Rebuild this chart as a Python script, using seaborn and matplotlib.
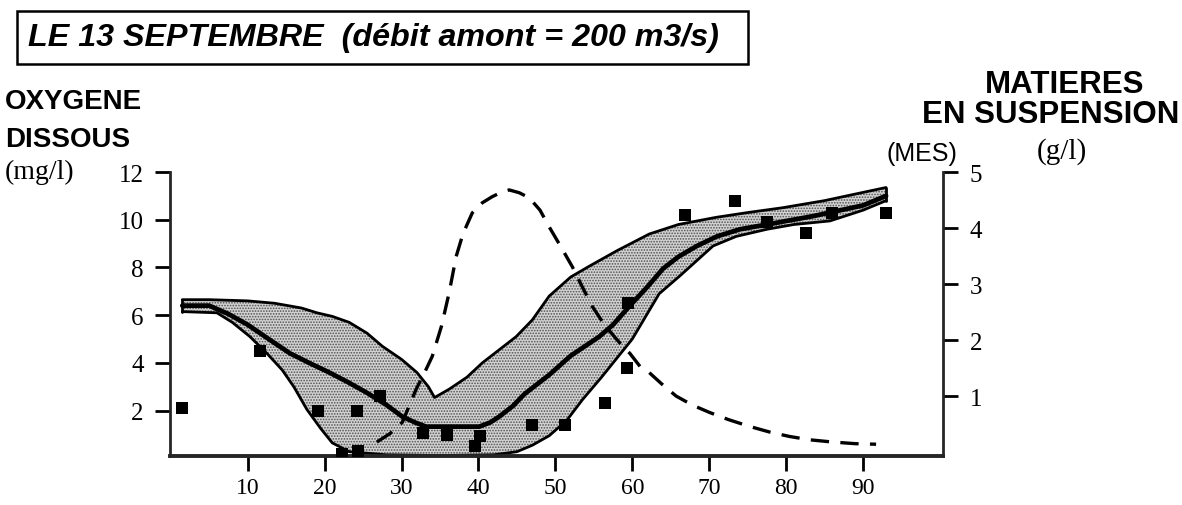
import numpy as np
import pandas as pd
import matplotlib
matplotlib.use("Agg")
import matplotlib.pyplot as plt
import seaborn as sns
from matplotlib.patches import Rectangle

# ---------------- data ----------------
# band of simulated dissolved oxygen (mg/l)
upper_x = [1.5, 5, 10, 13.5, 17, 19, 21, 23.2, 25.5, 27.5, 30, 32, 33.5, 34.3, 36.2, 38.5,
           40.5, 42.5, 44.9, 47, 49.2, 52, 54.4, 58, 62.2, 66, 70.9, 75, 79.5, 85, 90.8, 93]
upper_y = [6.65, 6.65, 6.6, 6.5, 6.3, 6.1, 5.95, 5.7, 5.25, 4.7, 4.15, 3.6, 3.0, 2.55, 2.9, 3.4,
           4.0, 4.5, 5.1, 5.8, 6.8, 7.6, 8.05, 8.7, 9.4, 9.8, 10.1, 10.3, 10.5, 10.8, 11.2, 11.35]
lower_x = [1.5, 6, 8, 10.3, 12.5, 14.5, 16, 17.7, 19.5, 21, 23.2, 28, 35, 42, 45, 47, 49.2,
           51.5, 53.5, 56, 58, 60, 63.5, 66.2, 70.5, 73.5, 77.5, 81, 85.7, 90, 93]
lower_y = [6.15, 6.1, 5.7, 5.1, 4.4, 3.7, 3.0, 2.05, 1.25, 0.65, 0.28, 0.15, 0.12, 0.15, 0.28,
           0.55, 0.95, 1.6, 2.45, 3.4, 4.2, 5.0, 6.9, 7.65, 8.9, 9.3, 9.6, 9.8, 9.95, 10.4, 10.8]
# central simulated oxygen
o2_x = [1.5, 5, 7.5, 10, 12.5, 15.5, 18, 20.6, 23, 25.5, 28, 30.1, 31.8, 33.2, 40.1, 41.5,
        42.7, 44.5, 46, 49.2, 52, 55.7, 57.5, 59.7, 62, 64, 66, 68.4, 71, 74, 77.5, 83.5, 90, 93]
o2_y = [6.4, 6.4, 6.05, 5.6, 5.05, 4.4, 4.0, 3.6, 3.2, 2.75, 2.25, 1.75, 1.5, 1.33, 1.33, 1.5,
        1.75, 2.2, 2.7, 3.5, 4.3, 5.1, 5.6, 6.4, 7.2, 7.95, 8.45, 8.9, 9.3, 9.6, 9.8, 10.15, 10.6, 11.0]
# measured oxygen (squares)
meas_x = [1.4, 11.6, 19.1, 22.2, 24.2, 24.3, 27.2, 32.8, 35.9, 39.5, 40.2, 47, 51.2, 56.4,
          59.3, 59.4, 66.8, 73.3, 77.5, 82.6, 86, 93]
meas_y = [2.1, 4.5, 2.0, 0.2, 2.0, 0.33, 2.6, 1.05, 0.96, 0.5, 0.92, 1.4, 1.4, 2.3,
          3.8, 6.5, 10.2, 10.8, 9.9, 9.45, 10.3, 10.3]
# suspended matter MES (g/l), right axis
mes_x = [26.8, 28.5, 30.1, 31.9, 33.0, 34.0, 35.2, 36.2, 37.1, 38.0, 39.2, 40.5, 41.8, 43.0,
         44.0, 45.3, 46.6, 48.0, 49.2, 50.7, 52.2, 53.5, 54.8, 56.5, 58.3, 59.7, 61.0, 62.2,
         63.8, 65.7, 67.8, 70.0, 72.5, 75.2, 77.8, 80.4, 83.0, 86.0, 89.0, 91.7]
mes_y = [0.18, 0.33, 0.53, 1.12, 1.42, 1.71, 2.25, 2.85, 3.49, 3.9, 4.27, 4.45, 4.56, 4.64,
         4.68, 4.63, 4.54, 4.32, 4.02, 3.67, 3.31, 2.95, 2.6, 2.25, 1.96, 1.76, 1.53, 1.42,
         1.22, 1.0, 0.84, 0.71, 0.58, 0.46, 0.36, 0.28, 0.22, 0.18, 0.15, 0.14]

x_ticks = [10, 20, 30, 40, 50, 60, 70, 80, 90]
left_ticks = [2, 4, 6, 8, 10, 12]
right_ticks = [1, 2, 3, 4, 5]

# ---------------- figure ----------------
sns.set_style("ticks")
plt.rcParams['font.family'] = ['Liberation Serif', 'DejaVu Serif']
plt.rcParams['hatch.linewidth'] = 0.8
plt.rcParams['text.color'] = 'black'
plt.rcParams['xtick.color'] = 'black'
plt.rcParams['ytick.color'] = 'black'

W, H = 1182, 506
fig = plt.figure(figsize=(W / 100, H / 100), dpi=100)
fig.patch.set_facecolor("white")

ax = fig.add_axes([170 / W, 1 - 457 / H, (943 - 170) / W, (457 - 173) / H])
ax.set_facecolor("white")

# stippled band
band_x = np.concatenate([upper_x, lower_x[::-1]])
band_y = np.concatenate([upper_y, lower_y[::-1]])
ax.fill(band_x, band_y, facecolor="#d2d2d2", edgecolor="#505050", hatch="......",
        linewidth=0, zorder=1)
ax.plot(upper_x, upper_y, color="black", lw=2.0, zorder=2)
ax.plot(lower_x, lower_y, color="black", lw=2.0, zorder=2)
ax.plot([upper_x[0], lower_x[0]], [upper_y[0], lower_y[0]], color="black", lw=2.0, zorder=2)
ax.plot([upper_x[-1], lower_x[-1]], [upper_y[-1], lower_y[-1]], color="black", lw=2.0, zorder=2)

df_o2 = pd.DataFrame({"x": o2_x, "y": o2_y})
sns.lineplot(data=df_o2, x="x", y="y", ax=ax, color="black", lw=3.4, sort=False,
             estimator=None, zorder=3)

df_meas = pd.DataFrame({"x": meas_x, "y": meas_y})
sns.scatterplot(data=df_meas, x="x", y="y", ax=ax, marker="s", s=70, color="black",
                edgecolor="black", linewidth=0, zorder=4)

ax.set_xlim(-0.1, 100.4)
ax.set_ylim(0.1, 12)
ax.set_xticks(x_ticks)
ax.set_xticklabels([str(v) for v in x_ticks])
ax.set_yticks(left_ticks)
ax.set_yticklabels([str(v) for v in left_ticks])
ax.set_xlabel("")
ax.set_ylabel("")
for s in ["top", "right"]:
    ax.spines[s].set_visible(False)
ax.spines["left"].set_linewidth(2)
ax.spines["bottom"].set_linewidth(2.8)
ax.tick_params(axis="both", direction="out", width=2, length=11, labelsize=18,
               colors="black")
ax.tick_params(axis="x", pad=4, labelsize=17)
ax.tick_params(axis="y", pad=8)

# right axis for MES
ax2 = ax.twinx()
df_mes = pd.DataFrame({"x": mes_x, "y": mes_y})
sns.lineplot(data=df_mes, x="x", y="y", ax=ax2, color="black", lw=2.4, sort=False,
             estimator=None, zorder=3)
ax2.lines[-1].set_dashes([5.5, 3.4])
ax2.set_ylim(-0.07, 5)
ax2.set_yticks(right_ticks)
ax2.set_yticklabels([str(v) for v in right_ticks])
ax2.set_ylabel("")
for s in ["top", "left", "bottom"]:
    ax2.spines[s].set_visible(False)
ax2.spines["right"].set_linewidth(2)
ax2.tick_params(axis="y", direction="out", width=2, length=11, labelsize=18, pad=8,
                colors="black")

# ---------------- texts ----------------
sans = ['Liberation Sans', 'DejaVu Sans']
serif = ['Liberation Serif', 'DejaVu Serif']

fig.patches.append(Rectangle((17 / W, 1 - 65 / H), (748 - 17) / W, (65 - 12) / H,
                             transform=fig.transFigure, fill=False, edgecolor="black",
                             linewidth=1.8))
fig.text(28 / W, 1 - 38 / H, "LE 13 SEPTEMBRE  (débit amont = 200 m3/s)", family=sans,
         fontsize=23.2, fontweight="bold", fontstyle="italic", ha="left", va="center")

fig.text(5 / W, 1 - 102 / H, "OXYGENE", family=sans, fontsize=20, fontweight="bold",
         ha="left", va="center")
fig.text(5 / W, 1 - 140 / H, "DISSOUS", family=sans, fontsize=20, fontweight="bold",
         ha="left", va="center")
fig.text(5 / W, 1 - 172 / H, "(mg/l)", family=serif, fontsize=20, ha="left", va="center")

fig.text(1065 / W, 1 - 85 / H, "MATIERES", family=sans, fontsize=22.5, fontweight="bold",
         ha="center", va="center")
fig.text(1051 / W, 1 - 115 / H, "EN SUSPENSION", family=sans, fontsize=22.5,
         fontweight="bold", ha="center", va="center")
fig.text(1062 / W, 1 - 152 / H, "(g/l)", family=serif, fontsize=21, ha="center", va="center")
fig.text(922 / W, 1 - 154 / H, "(MES)", family=sans, fontsize=18, ha="center", va="center")

fig.savefig("out.png", dpi=100, facecolor="white")
